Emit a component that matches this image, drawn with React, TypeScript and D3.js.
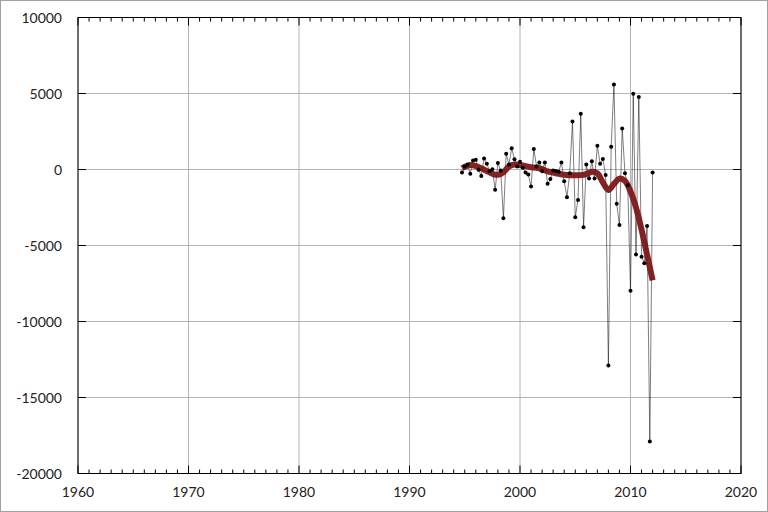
import React from "react";
import * as d3 from "d3";

const startYear = 1994.75;
const step = 0.25;
const values = [
  -190, 200, 330, -280, 590, 640, -20, -420, 730, 380,
  -110, 20, -1340, 420, -60, -3200, 1030, 330, 1390, 680,
  200, 510, 110, -190, -330, -1120, 1350, 200, 460, -110,
  460, -940, -630, -60, -100, -150, 460, -770, -1820, -240,
  3150, -3140, -2000, 3670, -3800, 330, -590, 550, -590, 1560,
  380, 690, -370, -12900, 1500, 5600, -2260, -3650, 2700, -240,
  -1030, -7980, 4990, -5600, 4770, -5740, -6170, -3710, -17900, -200,
];

const smoothYears = [
  1994.75, 1995, 1995.5, 1996, 1996.5, 1997, 1997.5, 1998, 1998.5, 1999,
  1999.5, 2000, 2000.5, 2001, 2001.5, 2002, 2002.5, 2003, 2003.5, 2004,
  2004.5, 2005, 2005.5, 2006, 2006.5, 2007, 2007.5, 2008, 2008.5, 2009,
  2009.5, 2010, 2010.5, 2011, 2011.5, 2012,
];
const smoothValues = [
  90, 180, 300, 230, 80, -100, -280, -350, -180, 200,
  330, 300, 220, 150, 120, 20, -120, -200, -280, -350,
  -380, -380, -370, -300, -150, -250, -850, -1350, -950, -600,
  -750, -1450, -2500, -3950, -5600, -7300,
];

const xTicks = [1960, 1970, 1980, 1990, 2000, 2010, 2020];
const yTicks = [-20000, -15000, -10000, -5000, 0, 5000, 10000];

const W = 768;
const H = 512;
const L = 78;
const R = 741;
const T = 17.5;
const B = 473.5;

export default function App() {
  const x = d3.scaleLinear().domain([1960, 2020]).range([L, R]);
  const y = d3.scaleLinear().domain([-20000, 10000]).range([B, T]);

  const pts = values.map((v, i) => ({ t: startYear + i * step, v }));
  const dataLine = d3
    .line<{ t: number; v: number }>()
    .x((d) => x(d.t))
    .y((d) => y(d.v))(pts) as string;

  const smooth = smoothYears.map((t, i) => ({ t, v: smoothValues[i] }));
  const smoothLine = d3
    .line<{ t: number; v: number }>()
    .x((d) => x(d.t))
    .y((d) => y(d.v))
    .curve(d3.curveCatmullRom)(smooth) as string;

  const minorX = d3.range(1961, 2020, 1).filter((v) => v % 10 !== 0);

  return (
    <div style={{ position: "fixed", left: 0, top: 0 }}>
      <svg width={W} height={H} style={{ display: "block" }}>
        <rect x={0} y={0} width={W} height={H} fill="#fff" />
        <rect x={0.5} y={0.5} width={W - 1} height={H - 1} fill="none" stroke="#a0a0a0" />
        {/* grid */}
        {xTicks.map((t) => (
          <line key={"gx" + t} x1={x(t)} x2={x(t)} y1={T} y2={B} stroke="#b4b4b4" strokeWidth={1} />
        ))}
        {yTicks.map((t) => (
          <line key={"gy" + t} x1={L} x2={R} y1={y(t)} y2={y(t)} stroke="#b4b4b4" strokeWidth={1} />
        ))}
        {/* minor ticks */}
        {minorX.map((t) => (
          <g key={"mx" + t}>
            <line x1={x(t)} x2={x(t)} y1={B} y2={B - 4} stroke="#000" strokeWidth={1} />
            <line x1={x(t)} x2={x(t)} y1={T} y2={T + 4} stroke="#000" strokeWidth={1} />
          </g>
        ))}
        {xTicks.map((t) => (
          <g key={"tx" + t}>
            <line x1={x(t)} x2={x(t)} y1={B} y2={B - 8} stroke="#000" strokeWidth={1} />
            <line x1={x(t)} x2={x(t)} y1={T} y2={T + 8} stroke="#000" strokeWidth={1} />
          </g>
        ))}
        {yTicks.map((t) => (
          <g key={"ty" + t}>
            <line x1={L} x2={L + 8} y1={y(t)} y2={y(t)} stroke="#000" strokeWidth={1} />
            <line x1={R} x2={R - 8} y1={y(t)} y2={y(t)} stroke="#000" strokeWidth={1} />
          </g>
        ))}
        {/* data */}
        <path d={dataLine} fill="none" stroke="#000" strokeWidth={0.6} strokeOpacity={0.85} />
        <path d={smoothLine} fill="none" stroke="#7d1717" strokeWidth={6} strokeOpacity={0.95} />
        {pts.map((d, i) => (
          <circle key={"p" + i} cx={x(d.t)} cy={y(d.v)} r={2} fill="#000" />
        ))}
        {/* frame */}
        <rect x={L} y={T} width={R - L} height={B - T} fill="none" stroke="#000" strokeWidth={1} />
        {/* labels */}
        {xTicks.map((t) => (
          <text key={"lx" + t} x={x(t)} y={497} textAnchor="middle" fontFamily="Lato" fontSize={14} fill="#222">
            {t}
          </text>
        ))}
        {yTicks.map((t) => (
          <text key={"ly" + t} x={62} y={y(t) + 5} textAnchor="end" fontFamily="Lato" fontSize={14} fill="#222">
            {t}
          </text>
        ))}
      </svg>
    </div>
  );
}
